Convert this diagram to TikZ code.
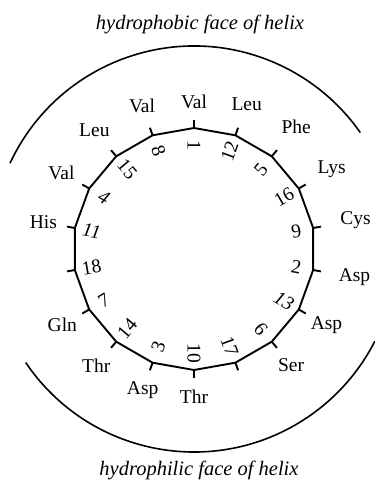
\documentclass[tikz,border=0pt]{standalone}
\usepackage{fontspec}
\setmainfont{Liberation Serif}
\usetikzlibrary{positioning}

\begin{document}
\begin{tikzpicture}[x=1pt, y=1pt,
    wheel/.style={line width=1.9pt, line join=miter},
    face/.style={line width=1.6pt},
    res/.style={font=\fontsize{19.5}{21}\selectfont, inner sep=0pt},
    num/.style={font=\fontsize{19.5}{21}\selectfont, inner sep=0pt},
    title/.style={font=\fontsize{20.5}{22}\selectfont\itshape, inner sep=0pt}
]
\useasboundingbox (-194,-236) rectangle (181,249);

% corners of the wheel, one every 20 degrees
\foreach \k in {0,...,17} {
  \coordinate (v\k) at ({90-20*\k}:121);
  \coordinate (t\k) at ({90-20*\k}:129);
}
\draw[wheel] (v0) \foreach \k in {1,...,17} { -- (v\k) } -- cycle;
\foreach \k in {0,...,17} \draw[wheel] (v\k) -- (t\k);

% residue numbers inside the wheel
\foreach \n/\a/\r/\txt in {1/90/-90/1, 2/-10/-10/2, 3/-110/70/3, 4/150/-30/\textit{4},
    5/50/50/5, 6/-50/-50/6, 7/210/30/7, 8/110/-70/8, 9/10/10/9, 10/-90/-90/10,
    11/170/-10/\textit{11}, 12/70/70/12, 13/-30/-30/\textit{13}, 14/-130/50/14,
    15/130/-50/15, 16/30/30/16, 17/-70/-70/17, 18/190/10/18}
  \node[num, rotate=\r] (n\n) at (\a:104) {\txt};

% residues outside the wheel
\foreach \n/\a/\d/\lab in {1/90/147/Val, 2/-10/163/Asp, 3/-110/150/Asp, 4/150/153/Val,
    5/50/159/Phe, 6/-50/151/Ser, 7/210/152/Gln, 8/110/152/Val, 9/10/164/Cys,
    10/-90/148/Thr, 11/170/153/His, 12/70/154/Leu, 13/-30/153/Asp, 14/-130/152/Thr,
    15/130/155/Leu, 16/30/159/Lys}
  \node[res] (r\n) at (\a:\d) {\lab};

% the two faces
\draw[face] (155:203) arc[start angle=155, end angle=35, radius=203];
\draw[face] (214:203) arc[start angle=214, end angle=333, radius=203];
\node[title] (phob) at (6,225) {hydrophobic face of helix};
\node[title] (phil) at (5,-221) {hydrophilic face of helix};
\end{tikzpicture}
\end{document}
